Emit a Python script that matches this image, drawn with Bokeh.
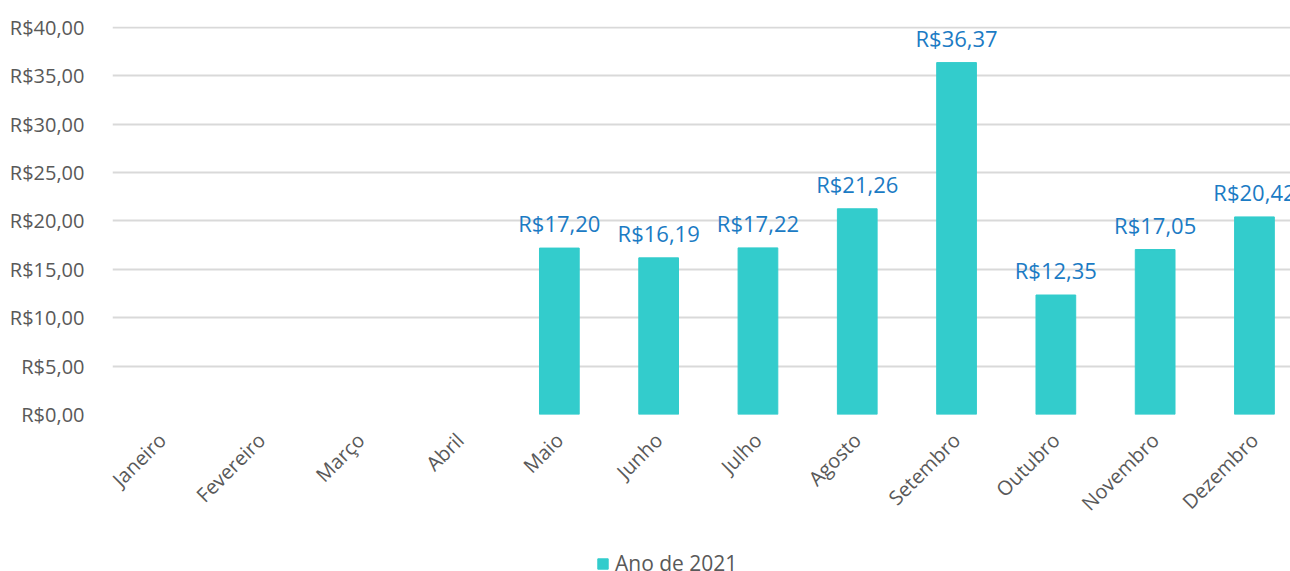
import math
from bokeh.plotting import figure
from bokeh.layouts import column
from bokeh.models import ColumnDataSource, FixedTicker, Range1d, Legend, LegendItem
from bokeh.core.properties import value
from bokeh.embed import file_html
from bokeh.resources import INLINE

months = ["Janeiro", "Fevereiro", "Março", "Abril", "Maio", "Junho", "Julho",
          "Agosto", "Setembro", "Outubro", "Novembro", "Dezembro"]
bar_months = ["Maio", "Junho", "Julho", "Agosto", "Setembro", "Outubro", "Novembro", "Dezembro"]
bar_values = [17.20, 16.19, 17.22, 21.26, 36.37, 12.35, 17.05, 20.42]
y_ticks = [0, 5, 10, 15, 20, 25, 30, 35, 40]
series_name = "Ano de 2021"
BAR_COLOR = "#33CCCC"

def brl(v):
    return "R$" + f"{v:.2f}".replace(".", ",")

xs = [months.index(m) for m in bar_months]
src = ColumnDataSource(dict(x=xs, top=bar_values, label=[brl(v) for v in bar_values]))

FONT = "Open Sans"
p = figure(width=1290, height=545, frame_width=1178, frame_height=388,
           output_backend="svg", toolbar_location=None,
           x_range=Range1d(-0.5, 11.363), y_range=Range1d(0, 40.1),
           min_border_left=112, min_border_right=0, min_border_top=26,
           min_border_bottom=131)
p.outline_line_color = None
p.background_fill_color = "white"
p.border_fill_color = "white"

r = p.vbar(x="x", top="top", width=0.4, source=src, color=BAR_COLOR)
p.text(x="x", y="top", text="label", source=src, text_align="center",
       text_baseline="alphabetic", y_offset=-25, text_color="#1B7BC4",
       text_font=value(FONT), text_font_size="22px")

# y axis
p.yaxis.ticker = FixedTicker(ticks=y_ticks)
p.yaxis.major_label_overrides = {t: brl(t) for t in y_ticks}
p.yaxis.axis_line_color = None
p.yaxis.major_tick_line_color = None
p.yaxis.minor_tick_line_color = None
p.yaxis.major_label_standoff = 22
p.yaxis.major_label_text_font = FONT
p.yaxis.major_label_text_font_size = "20px"
p.yaxis.major_label_text_color = "#595959"

# x axis
p.xaxis.ticker = FixedTicker(ticks=list(range(len(months))))
p.xaxis.major_label_overrides = {i: m for i, m in enumerate(months)}
p.xaxis.major_label_orientation = math.pi / 4
p.xaxis.axis_line_color = None
p.xaxis.major_tick_line_color = None
p.xaxis.minor_tick_line_color = None
p.xaxis.major_label_standoff = 16
p.xaxis.major_label_text_font = FONT
p.xaxis.major_label_text_font_size = "20px"
p.xaxis.major_label_text_color = "#595959"

p.xgrid.grid_line_color = None
p.ygrid.grid_line_color = "#D9D9D9"
p.ygrid.grid_line_width = 2

# legend strip below the chart
lf = figure(width=1290, height=40, output_backend="svg", toolbar_location=None,
            x_range=Range1d(0, 1), y_range=Range1d(0, 1),
            min_border=0, min_border_left=0, min_border_right=0,
            min_border_top=0, min_border_bottom=0)
lf.axis.visible = False
lf.grid.visible = False
lf.outline_line_color = None
dummy = lf.vbar(x=[0.5], bottom=[-6], top=[-5], width=0.1, color=BAR_COLOR)
legend = Legend(items=[LegendItem(label=series_name, renderers=[dummy])],
                orientation="horizontal", location=(484, 8),
                label_text_font=FONT, label_text_font_size="21px",
                label_text_color="#595959", glyph_width=13, glyph_height=13,
                border_line_color=None, background_fill_alpha=0,
                margin=0, padding=2, label_standoff=6)
lf.add_layout(legend, "center")

layout = column(p, lf, spacing=0)
open("out.html", "w").write(file_html(layout, INLINE))
